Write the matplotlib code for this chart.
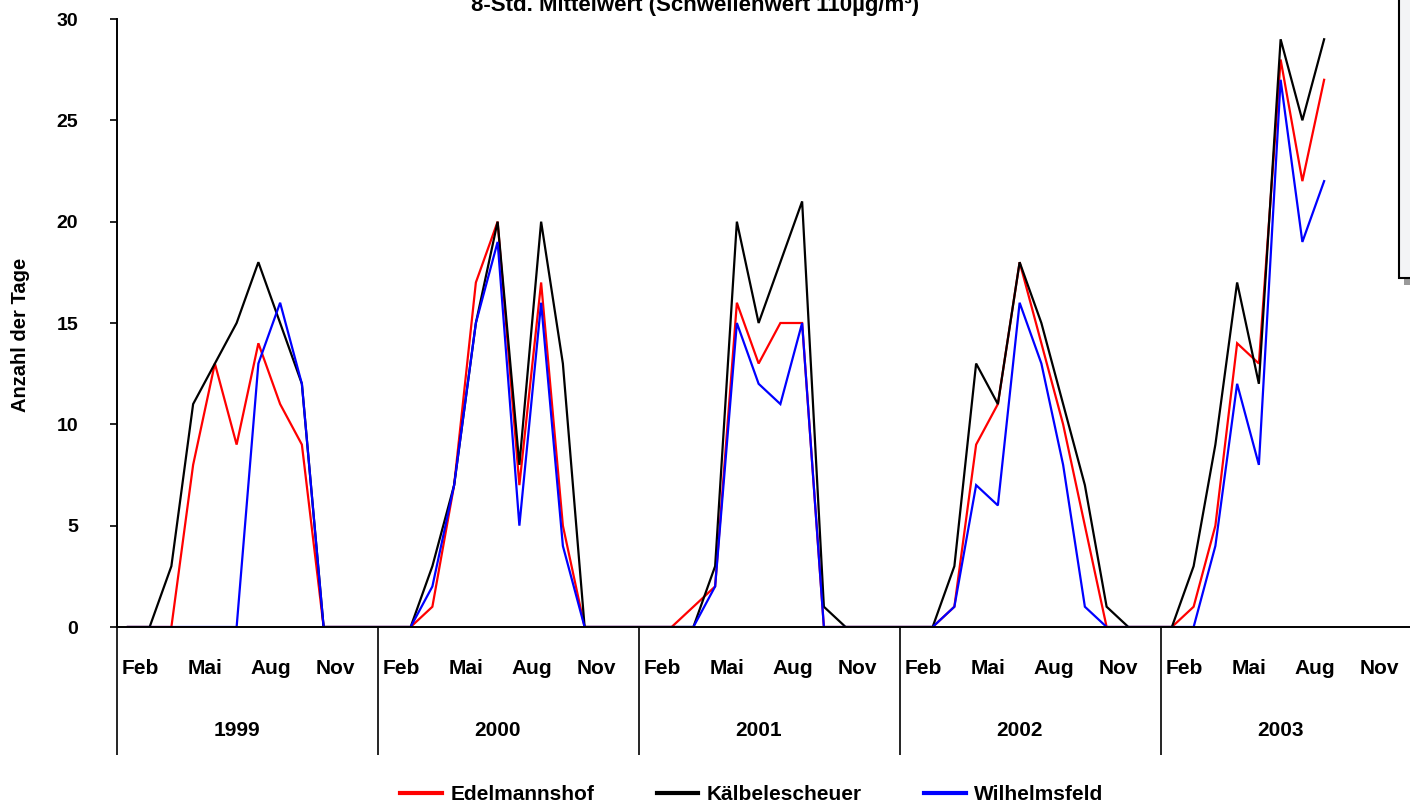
import numpy as np
import matplotlib
matplotlib.use("Agg")
import matplotlib.pyplot as plt
from matplotlib.patches import Rectangle
import matplotlib.transforms as mtransforms

plt.rcParams['font.family'] = ['Liberation Sans', 'DejaVu Sans']

# ---- data (monthly counts, Jan 1999 .. Aug 2003) ----
years = ["1999", "2000", "2001", "2002", "2003"]
month_labels = ["Feb", "Mai", "Aug", "Nov"]
series_names = ["Edelmannshof", "Kälbelescheuer", "Wilhelmsfeld"]
series_colors = ["#ff0000", "#000000", "#0000ff"]

edelmannshof = [
    0, 0, 0, 8, 13, 9, 14, 11, 9, 0, 0, 0,
    0, 0, 1, 7, 17, 20, 7, 17, 5, 0, 0, 0,
    0, 0, 1, 2, 16, 13, 15, 15, 0, 0, 0, 0,
    0, 0, 1, 9, 11, 18, 14, 10, 5, 0, 0, 0,
    0, 1, 5, 14, 13, 28, 22, 27,
]
kaelbelescheuer = [
    0, 0, 3, 11, 13, 15, 18, 15, 12, 0, 0, 0,
    0, 0, 3, 7, 15, 20, 8, 20, 13, 0, 0, 0,
    0, 0, 0, 3, 20, 15, 18, 21, 1, 0, 0, 0,
    0, 0, 3, 13, 11, 18, 15, 11, 7, 1, 0, 0,
    0, 3, 9, 17, 12, 29, 25, 29,
]
wilhelmsfeld = [
    0, 0, 0, 0, 0, 0, 13, 16, 12, 0, 0, 0,
    0, 0, 2, 7, 15, 19, 5, 16, 4, 0, 0, 0,
    0, 0, 0, 2, 15, 12, 11, 15, 0, 0, 0, 0,
    0, 0, 1, 7, 6, 16, 13, 8, 1, 0, 0, 0,
    0, 0, 4, 12, 8, 27, 19, 22,
]
series = [edelmannshof, kaelbelescheuer, wilhelmsfeld]

title = "8-Std. Mittelwert (Schwellenwert 110µg/m³)"
ylabel = "Anzahl der Tage"

W, H = 1410, 807
fig = plt.figure(figsize=(W / 100, H / 100), dpi=100)
fig.patch.set_facecolor("white")

# axes placed in pixel terms
x0, y_base, y_top = 117, 627, 19
n_months = 12 * len(years)
px_per_month = 21.75
ax = fig.add_axes([x0 / W, (H - y_base) / H, n_months * px_per_month / W, (y_base - y_top) / H])
ax.set_facecolor("none")

lines = []
for name, vals, col in zip(series_names, series, series_colors):
    x = np.arange(len(vals))
    ln, = ax.plot(x, vals, color=col, lw=1.6, label=name, solid_joinstyle="miter")
    lines.append(ln)

ax.set_xlim(-0.5, n_months - 0.5)
ax.set_ylim(0, 30)
ax.set_yticks([0, 5, 10, 15, 20, 25, 30])
ax.tick_params(axis="y", direction="out", length=5, width=1.2, pad=23,
               labelsize=14)
for lbl in ax.get_yticklabels():
    lbl.set_fontweight("bold")

# year separators as long x ticks
ax.set_xticks([12 * k - 0.5 for k in range(len(years) + 1)])
ax.set_xticklabels([])
ax.tick_params(axis="x", direction="out", length=92, width=1.2)

for s in ["top", "right"]:
    ax.spines[s].set_visible(False)
for s in ["left", "bottom"]:
    ax.spines[s].set_linewidth(1.4)
    ax.spines[s].set_color("black")

trans = mtransforms.blended_transform_factory(ax.transData, ax.transAxes)
axh = y_base - y_top
for k, yr in enumerate(years):
    for j, m in enumerate(month_labels):
        mi = 12 * k + 1 + 3 * j
        ax.text(mi - 0.45, (y_base - 669) / axh, m, transform=trans,
                ha="center", va="center", fontsize=15, fontweight="bold",
                clip_on=False)
    ax.text(12 * k + 5.0, (y_base - 731) / axh, yr, transform=trans,
            ha="center", va="center", fontsize=15, fontweight="bold",
            clip_on=False)

# y label
fig.text(21 / W, 1 - 335 / H, ylabel, rotation=90, ha="center", va="center",
         fontsize=14.5, fontweight="bold")

# title (partly cut off at the top, as in the reference)
fig.text(695 / W, 1 - 11 / H, title, ha="center", va="baseline",
         fontsize=16, fontweight="bold")

# legend at bottom
fig.legend(handles=lines, labels=series_names, loc="center",
           bbox_to_anchor=(752 / W, 1 - 795 / H), ncol=3, frameon=False,
           prop={"weight": "bold", "size": 15},
           handlelength=2.0, handletextpad=0.4, columnspacing=3.0)
for lh in fig.legends[0].get_lines():
    lh.set_linewidth(3)

# partially visible box at the top right
fig.patches.append(Rectangle((1404 / W, 1 - 285 / H), 10 / W, 8 / H,
                             transform=fig.transFigure, facecolor="#9a9a9a",
                             edgecolor="none", zorder=1))
fig.patches.append(Rectangle((1399 / W, 1 - 278 / H), 20 / W, 290 / H,
                             transform=fig.transFigure, facecolor="#f3f4f6",
                             edgecolor="black", lw=1.5, zorder=2))

fig.savefig("out.png", dpi=100)
